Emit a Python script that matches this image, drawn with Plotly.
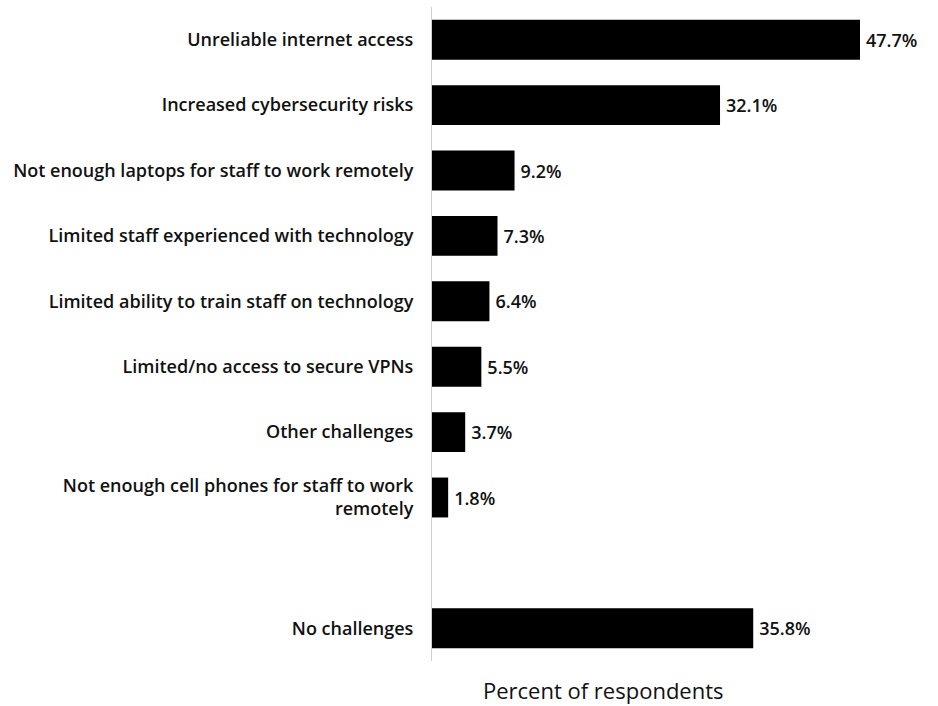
import plotly.graph_objects as go

# Survey results: technology challenges reported by respondents
categories = [
    "Unreliable internet access",
    "Increased cybersecurity risks",
    "Not enough laptops for staff to work remotely",
    "Limited staff experienced with technology",
    "Limited ability to train staff on technology",
    "Limited/no access to secure VPNs",
    "Other challenges",
    "Not enough cell phones for staff to work<br>remotely",
    " ",
    "No challenges",
]
values = [47.7, 32.1, 9.2, 7.3, 6.4, 5.5, 3.7, 1.8, None, 35.8]
value_labels = [f"\u2009{v}%" if v is not None else "" for v in values]

label_font = dict(family="Open Sans", size=18, color="#111111", weight=600)

fig = go.Figure(
    go.Bar(
        x=values,
        y=categories,
        orientation="h",
        marker=dict(color="#000000", line=dict(width=0)),
        width=0.61,
        text=value_labels,
        textposition="outside",
        textfont=label_font,
        cliponaxis=False,
    )
)

fig.update_layout(
    width=938,
    height=706,
    margin=dict(l=432, r=8, t=7, b=45),
    paper_bgcolor="white",
    plot_bgcolor="white",
    showlegend=False,
    bargap=0.39,
    xaxis=dict(
        range=[0, 55.5],
        showgrid=False,
        zeroline=False,
        showticklabels=False,
        ticks="",
        fixedrange=True,
    ),
    yaxis=dict(
        type="category",
        categoryorder="array",
        categoryarray=categories,
        autorange="reversed",
        showgrid=False,
        zeroline=False,
        showline=True,
        linecolor="#d0d0d0",
        linewidth=1,
        ticks="",
        ticklabelstandoff=14,
        tickfont=label_font,
    ),
    annotations=[
        dict(
            text="Percent of respondents",
            xref="paper",
            yref="paper",
            x=(603 - 432) / 498,
            y=0,
            yshift=-29,
            xanchor="center",
            yanchor="middle",
            showarrow=False,
            font=dict(family="Open Sans", size=22, color="#111111"),
        )
    ],
)

fig.write_html("out.html")
